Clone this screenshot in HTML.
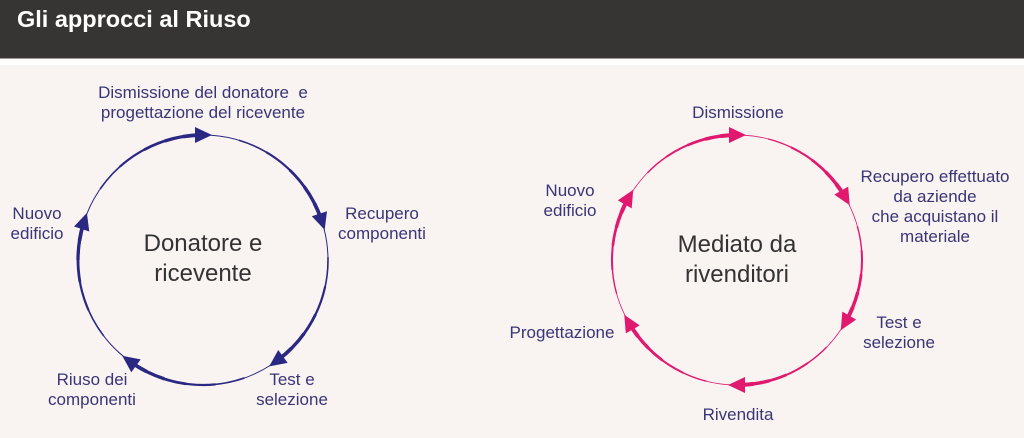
<!DOCTYPE html>
<html><head><meta charset="utf-8"><style>
html,body{margin:0;padding:0;}
body{width:1024px;height:438px;position:relative;overflow:hidden;background:#f9f4f2;font-family:"Liberation Sans",Arial,sans-serif;}
.hdr{position:absolute;left:0;top:0;width:1024px;height:58px;background:#363533;}
.hline{position:absolute;left:0;top:58px;width:1024px;height:1px;background:#9d9c9b;}
.white{position:absolute;left:0;top:59px;width:1024px;height:6px;background:#ffffff;}
.title{position:absolute;left:17px;top:5px;font-size:23.5px;font-weight:bold;color:#fff;line-height:28px;white-space:nowrap;}
.lbl{position:absolute;width:240px;text-align:center;font-size:17px;line-height:20px;color:#3a3575;white-space:pre;}
.ctr{position:absolute;width:240px;text-align:center;font-size:24px;line-height:30px;color:#343333;}
svg{position:absolute;left:0;top:0;}
</style></head><body>
<div class="hdr"></div><div class="hline"></div><div class="white"></div>
<div class="title">Gli approcci al Riuso</div>

<svg width="1024" height="438" viewBox="0 0 1024 438">
  <g fill="none" stroke="#2b2883" stroke-linecap="butt">
    <path d="M 328 260 A 125 125 0 1 1 78 260 A 125 125 0 1 1 328 260" stroke-width="1.0" stroke-dasharray="148.35 8.73" stroke-dashoffset="-124.35"/>
    <path d="M 328 260 A 125 125 0 1 1 78 260 A 125 125 0 1 1 328 260" stroke-width="1.6" stroke-dasharray="118.68 38.40" stroke-dashoffset="-154.03"/>
    <path d="M 328 260 A 125 125 0 1 1 78 260 A 125 125 0 1 1 328 260" stroke-width="2.2" stroke-dasharray="89.01 68.07" stroke-dashoffset="-183.70"/>
    <path d="M 328 260 A 125 125 0 1 1 78 260 A 125 125 0 1 1 328 260" stroke-width="2.8" stroke-dasharray="59.34 97.74" stroke-dashoffset="-213.37"/>
    <path d="M 328 260 A 125 125 0 1 1 78 260 A 125 125 0 1 1 328 260" stroke-width="3.3" stroke-dasharray="37.09 119.99" stroke-dashoffset="-235.62"/>
    <path d="M 328 260 A 125 125 0 1 1 78 260 A 125 125 0 1 1 328 260" stroke-width="3.7" stroke-dasharray="17.80 139.28" stroke-dashoffset="-254.91"/>
  </g>
  <g fill="#2b2883">
    <polygon points="320,252 336,252 328,269" transform="rotate(-90 203 260)"/>
    <polygon points="320,252 336,252 328,269" transform="rotate(-18 203 260)"/>
    <polygon points="320,252 336,252 328,269" transform="rotate(54 203 260)"/>
    <polygon points="320,252 336,252 328,269" transform="rotate(126 203 260)"/>
    <polygon points="320,252 336,252 328,269" transform="rotate(198 203 260)"/>
  </g>

  <g fill="none" stroke="#e0196f" stroke-linecap="butt">
    <path d="M 862 260 A 125 125 0 1 1 612 260 A 125 125 0 1 1 862 260" stroke-width="0.8" stroke-dasharray="122.17 8.73" stroke-dashoffset="-72.00"/>
    <path d="M 862 260 A 125 125 0 1 1 612 260 A 125 125 0 1 1 862 260" stroke-width="1.4" stroke-dasharray="97.74 33.16" stroke-dashoffset="-96.43"/>
    <path d="M 862 260 A 125 125 0 1 1 612 260 A 125 125 0 1 1 862 260" stroke-width="2.0" stroke-dasharray="73.30 57.60" stroke-dashoffset="-120.86"/>
    <path d="M 862 260 A 125 125 0 1 1 612 260 A 125 125 0 1 1 862 260" stroke-width="2.7" stroke-dasharray="48.87 82.03" stroke-dashoffset="-145.30"/>
    <path d="M 862 260 A 125 125 0 1 1 612 260 A 125 125 0 1 1 862 260" stroke-width="3.4" stroke-dasharray="30.54 100.36" stroke-dashoffset="-163.62"/>
    <path d="M 862 260 A 125 125 0 1 1 612 260 A 125 125 0 1 1 862 260" stroke-width="4.0" stroke-dasharray="14.66 116.24" stroke-dashoffset="-179.51"/>
  </g>
  <g fill="#e0196f">
    <polygon points="854,252 870,252 862,269" transform="rotate(-90 737 260)"/>
    <polygon points="854,252 870,252 862,269" transform="rotate(-30 737 260)"/>
    <polygon points="854,252 870,252 862,269" transform="rotate(30 737 260)"/>
    <polygon points="854,252 870,252 862,269" transform="rotate(90 737 260)"/>
    <polygon points="854,252 870,252 862,269" transform="rotate(150 737 260)"/>
    <polygon points="854,252 870,252 862,269" transform="rotate(210 737 260)"/>
  </g>
</svg>

<!-- Left diagram labels -->
<div class="lbl" style="left:83px;top:83px;">Dismissione del donatore  e
progettazione del ricevente</div>
<div class="lbl" style="left:262px;top:204px;">Recupero
componenti</div>
<div class="lbl" style="left:-83px;top:204px;">Nuovo
edificio</div>
<div class="lbl" style="left:172px;top:370px;">Test e
selezione</div>
<div class="lbl" style="left:-28px;top:370px;">Riuso dei
componenti</div>
<div class="ctr" style="left:83px;top:229px;">Donatore e<br>ricevente</div>

<!-- Right diagram labels -->
<div class="lbl" style="left:618px;top:103px;">Dismissione</div>
<div class="lbl" style="left:815px;top:167px;">Recupero effettuato
da aziende
che acquistano il
materiale</div>
<div class="lbl" style="left:450px;top:181px;">Nuovo
edificio</div>
<div class="lbl" style="left:779px;top:313px;">Test e
selezione</div>
<div class="lbl" style="left:442px;top:323px;">Progettazione</div>
<div class="lbl" style="left:618px;top:405px;">Rivendita</div>
<div class="ctr" style="left:617px;top:230px;">Mediato da<br>rivenditori</div>
</body></html>
